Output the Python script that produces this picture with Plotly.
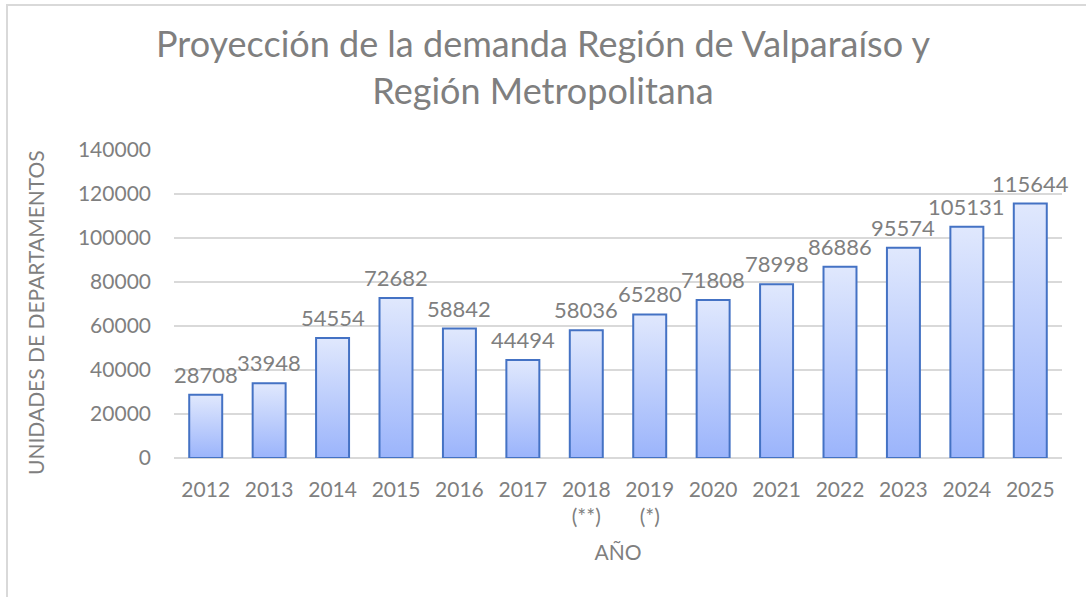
import plotly.graph_objects as go

# Projected demand (apartment units) per year
years = ["2012", "2013", "2014", "2015", "2016", "2017", "2018<br>(**)", "2019<br>(*)",
         "2020", "2021", "2022", "2023", "2024", "2025"]
units = [28708, 33948, 54554, 72682, 58842, 44494, 58036, 65280,
         71808, 78998, 86886, 95574, 105131, 115644]

FONT = "Lato"
GREY = "#7f7f7f"
EDGE = "#4472c4"
TOP_COLOR = "#e0e8fd"
BOTTOM_COLOR = "#9bb4fb"
HALF_WIDTH = 0.26

fig = go.Figure()

# Each column is a filled polygon so it can carry its own vertical gradient
for i, v in enumerate(units):
    fig.add_trace(go.Scatter(
        x=[i - HALF_WIDTH, i - HALF_WIDTH, i + HALF_WIDTH, i + HALF_WIDTH, i - HALF_WIDTH],
        y=[0, v, v, 0, 0],
        mode="lines",
        fill="toself",
        fillgradient=dict(type="vertical",
                          colorscale=[[0, BOTTOM_COLOR], [1, TOP_COLOR]]),
        line=dict(color=EDGE, width=2),
        hoverinfo="skip",
        showlegend=False,
    ))

# Value labels above each column
annotations = [
    dict(x=i, y=v, xref="x", yref="y", text=str(v), showarrow=False,
         xanchor="center", yanchor="bottom", yshift=5,
         font=dict(family=FONT, size=22, color=GREY))
    for i, v in enumerate(units)
]

# Vertical axis title
annotations.append(dict(
    x=-139 / 888, y=145 / 308, xref="paper", yref="paper",
    text="UNIDADES DE DEPARTAMENTOS", showarrow=False, textangle=-90,
    xanchor="center", yanchor="middle",
    font=dict(family=FONT, size=21, color=GREY),
))

fig.update_layout(
    width=1086,
    height=597,
    paper_bgcolor="white",
    plot_bgcolor="white",
    margin=dict(l=174, r=24, t=150, b=139),
    font=dict(family=FONT, color=GREY),
    title=dict(
        text="Proyección de la demanda Región de Valparaíso y<br>Región Metropolitana",
        x=0.5, xanchor="center", xref="container",
        y=0.905, yanchor="middle", yref="container",
        font=dict(family=FONT, size=36, color=GREY),
    ),
    annotations=annotations,
    xaxis=dict(
        range=[-0.5, len(units) - 0.5],
        tickmode="array",
        tickvals=list(range(len(units))),
        ticktext=years,
        tickfont=dict(family=FONT, size=21, color=GREY),
        showgrid=False,
        zeroline=False,
        showline=False,
        ticks="",
        ticklabelstandoff=17,
        title=dict(text="AÑO", font=dict(family=FONT, size=21, color=GREY), standoff=18),
    ),
    yaxis=dict(
        range=[0, 140000],
        dtick=20000,
        tickformat="d",
        tickfont=dict(family=FONT, size=21, color=GREY),
        showgrid=True,
        gridcolor="#d9d9d9",
        gridwidth=1.5,
        zeroline=True,
        zerolinecolor="#d9d9d9",
        zerolinewidth=1.5,
        showline=False,
        ticks="",
        ticklabelstandoff=22,
    ),
    shapes=[dict(type="rect", xref="paper", yref="paper",
                 x0=-167 / 888, x1=1.1, y0=-0.6, y1=1 + 145 / 308,
                 line=dict(color="#d9d9d9", width=2), fillcolor="rgba(0,0,0,0)",
                 layer="below")],
)

fig.write_html("out.html")
